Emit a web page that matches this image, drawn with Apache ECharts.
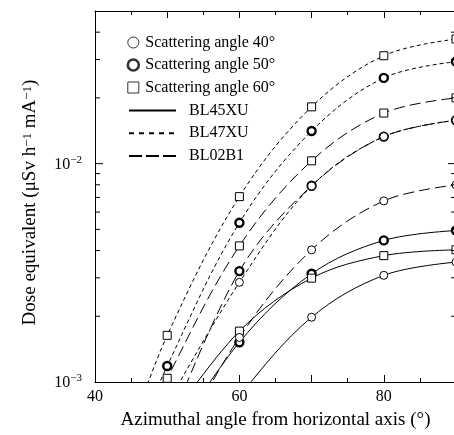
<!DOCTYPE html>
<html><head><meta charset="utf-8">
<script src="https://cdn.jsdelivr.net/npm/echarts@6/dist/echarts.min.js"></script>
<style>html,body{margin:0;padding:0;background:#fff}#c{width:454px;height:435px}</style>
</head><body><div id="c"></div><script>
// x positions (azimuthal angle, degrees). The first point of each series lies below 10^-3 (off-chart lead-in).
const xFull = [45, 50, 60, 70, 80, 90];
const xFrom50 = [50, 60, 70, 80, 90];

// Dose equivalent (µSv h^-1 mA^-1)
const bl47xu_60 = [6.0e-4, 1.635e-3, 7.06e-3, 0.0182, 0.0312, 0.0372];
const bl47xu_50 = [4.8e-4, 1.184e-3, 5.36e-3, 0.0141, 0.0247, 0.0293];
const bl02b1_60 = [4.5e-4, 1.04e-3, 4.20e-3, 0.0103, 0.01705, 0.0200];
const bl47xu_40 = [7.9e-4, 2.86e-3, 7.9e-3, 0.0133, 0.0158];
const bl02b1_50 = [5.9e-4, 3.22e-3, 7.92e-3, 0.0133, 0.0158];
const bl02b1_40 = [4.2e-4, 1.6e-3, 4.03e-3, 6.75e-3, 7.99e-3];
const bl45xu_60 = [6.4e-4, 1.71e-3, 2.99e-3, 3.79e-3, 4.03e-3];
const bl45xu_50 = [5.0e-4, 1.52e-3, 3.13e-3, 4.45e-3, 4.94e-3];
const bl45xu_40 = [3.0e-4, 0.86e-3, 1.98e-3, 3.08e-3, 3.54e-3];

const yTickVals = [0.002,0.003,0.004,0.005,0.006,0.007,0.008,0.009,0.01,0.02,0.03,0.04];
const angleNames = ['Scattering angle 40°','Scattering angle 50°','Scattering angle 60°'];
const beamlineNames = ['BL45XU','BL47XU','BL02B1'];

const FONT = 'Liberation Serif';
const dashStyles = { BL45XU: 'solid', BL47XU: [4, 3], BL02B1: [11, 5] };
const legendDash = { BL45XU: 'solid', BL47XU: [5, 5], BL02B1: [13, 4] };
const markerStyles = {
  40: { symbol: 'circle', symbolSize: 8, itemStyle: { color: '#fff', borderColor: '#000', borderWidth: 1 } },
  50: { symbol: 'circle', symbolSize: 8, itemStyle: { color: '#fff', borderColor: '#000', borderWidth: 2.4 } },
  60: { symbol: 'rect', symbolSize: 8, itemStyle: { color: '#fff', borderColor: '#000', borderWidth: 1 } }
};

function zip(xs, ys) { return xs.map((x, i) => [x, ys[i]]); }
function mkSeries(bl, ang, xs, ys) {
  const m = markerStyles[ang];
  return {
    type: 'line', name: bl + '_' + ang, data: zip(xs, ys), smooth: 0.35, clip: true,
    symbol: m.symbol, symbolSize: m.symbolSize, itemStyle: m.itemStyle, showAllSymbol: true,
    lineStyle: { color: '#000', width: 1, type: dashStyles[bl] },
    silent: true, z: 3
  };
}

const series = [
  mkSeries('BL45XU', 40, xFrom50, bl45xu_40),
  mkSeries('BL45XU', 50, xFrom50, bl45xu_50),
  mkSeries('BL45XU', 60, xFrom50, bl45xu_60),
  mkSeries('BL02B1', 40, xFrom50, bl02b1_40),
  mkSeries('BL02B1', 50, xFrom50, bl02b1_50),
  mkSeries('BL02B1', 60, xFull, bl02b1_60),
  mkSeries('BL47XU', 40, xFrom50, bl47xu_40),
  mkSeries('BL47XU', 50, xFull, bl47xu_50),
  mkSeries('BL47XU', 60, xFull, bl47xu_60),
];
// legend entries
[40, 50, 60].forEach((a, i) => {
  const m = markerStyles[a];
  series.push({ type: 'scatter', name: angleNames[i], data: [], symbol: m.symbol, symbolSize: m.symbolSize, itemStyle: m.itemStyle });
});
beamlineNames.forEach(b => {
  series.push({ type: 'line', name: b, data: [], symbol: 'none', itemStyle: { color: '#000', opacity: 0 },
    lineStyle: { color: '#000', width: 1, type: legendDash[b] } });
});
// minor/major y ticks on left and right frame
series.push({
  type: 'custom', silent: true, z: 5, clip: false,
  data: yTickVals.map(v => [40, v]),
  renderItem: (params, api) => {
    const v = api.value(1);
    const e = Math.log10(v);
    const major = Math.abs(e - Math.round(e)) < 1e-9;
    const len = major ? 8 : 5;
    const p = api.coord([40, v]);
    const q = api.coord([90, v]);
    const st = { stroke: '#000', lineWidth: 1 };
    return { type: 'group', children: [
      { type: 'line', shape: { x1: p[0], y1: p[1], x2: p[0] + len, y2: p[1] }, style: st },
      { type: 'line', shape: { x1: q[0] - len, y1: q[1], x2: q[0], y2: q[1] }, style: st }
    ]};
  }
});

const xCommon = {
  type: 'value', min: 40, max: 90, interval: 10,
  axisLine: { show: true, onZero: false, lineStyle: { color: '#000', width: 1 } },
  axisTick: { show: true, inside: true, length: 7, lineStyle: { color: '#000' } },
  minorTick: { show: true, splitNumber: 2, length: 4, lineStyle: { color: '#000' } },
  splitLine: { show: false }
};

const chart = echarts.init(document.getElementById('c'), null, { renderer: 'canvas' });
chart.setOption({
  backgroundColor: '#fff',
  animation: false,
  textStyle: { fontFamily: FONT },
  grid: { left: 95, width: 361, top: 11, bottom: 53, containLabel: false, outerBoundsMode: 'none' },
  legend: [
    { data: [
        { name: angleNames[0], itemStyle: { borderWidth: 1 } },
        { name: angleNames[1], itemStyle: { borderWidth: 2.6 } },
        { name: angleNames[2], itemStyle: { borderWidth: 1 } }
      ],
      orient: 'vertical', left: 126.5, top: 34.5, padding: 0, itemWidth: 11, itemHeight: 11, itemGap: 6.5,
      selectedMode: false,
      textStyle: { fontFamily: FONT, fontSize: 16, color: '#000', lineHeight: 16, padding: [0, 0, 0, 1.5] } },
    { data: beamlineNames, orient: 'vertical', left: 128, top: 102.5, padding: 0, itemWidth: 47, itemHeight: 10, itemGap: 6.7,
      selectedMode: false, itemStyle: { opacity: 0 },
      textStyle: { fontFamily: FONT, fontSize: 16, color: '#000', lineHeight: 16, padding: [0, 0, 0, 8] } }
  ],
  xAxis: [
    Object.assign({}, xCommon, {
      position: 'bottom',
      name: 'Azimuthal angle from horizontal axis (°)', nameLocation: 'middle', nameGap: 29,
      nameTextStyle: { fontFamily: FONT, fontSize: 19, color: '#000' },
      axisLabel: { show: true, margin: 7, fontFamily: FONT, fontSize: 16, color: '#000',
        formatter: v => (v % 20 === 0 && v < 90) ? String(v) : '' }
    }),
    Object.assign({}, xCommon, { position: 'top', axisLabel: { show: false } })
  ],
  yAxis: [
    {
      type: 'log', logBase: 10, min: 0.001, max: 0.05,
      axisLine: { show: true, lineStyle: { color: '#000', width: 1 } },
      axisTick: { show: false }, minorTick: { show: false }, splitLine: { show: false }, minorSplitLine: { show: false },
      name: 'Dose equivalent (μSv h{s|−1} mA{s|−1})', nameLocation: 'middle', nameGap: 55, nameRotate: 90,
      nameTextStyle: { fontFamily: FONT, fontSize: 19, color: '#000', padding: [0, 12, 0, 0],
        rich: { s: { fontFamily: FONT, fontSize: 13, verticalAlign: 'top', lineHeight: 12 } } },
      axisLabel: {
        margin: 13, color: '#000',
        formatter: v => {
          const e = Math.log10(v);
          if (Math.abs(e - Math.round(e)) > 1e-6) return '';
          return '{b|10}{s|−' + Math.abs(Math.round(e)) + '}';
        },
        rich: {
          b: { fontFamily: FONT, fontSize: 16, color: '#000', verticalAlign: 'bottom', lineHeight: 18 },
          s: { fontFamily: FONT, fontSize: 11, color: '#000', verticalAlign: 'top', lineHeight: 11 }
        }
      }
    },
    { type: 'log', logBase: 10, min: 0.001, max: 0.05, position: 'right',
      axisLine: { show: true, lineStyle: { color: '#000' } }, axisTick: { show: false }, axisLabel: { show: false },
      splitLine: { show: false } }
  ],
  series: series
});
</script></body></html>
